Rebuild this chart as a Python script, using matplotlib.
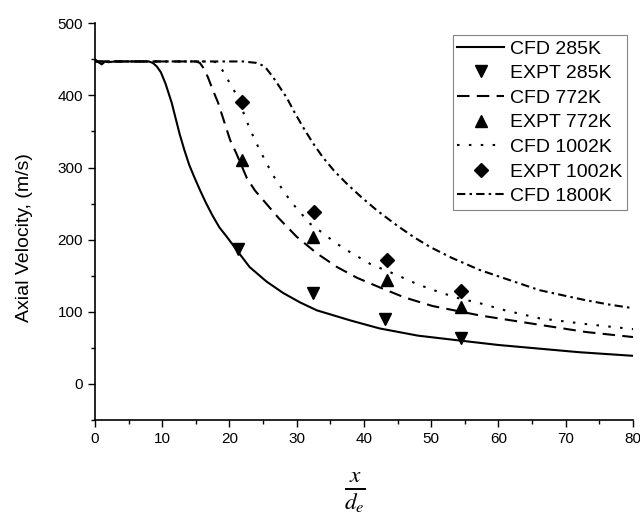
import numpy as np
import matplotlib
matplotlib.use('Agg')
import matplotlib.pyplot as plt
from matplotlib.ticker import MultipleLocator

plt.rcParams['font.family'] = ['Liberation Sans', 'DejaVu Sans']
plt.rcParams['mathtext.fontset'] = 'stix'

# CFD curves
cfd285_x = [0, 0.5, 1, 1.5, 2, 3, 5, 8, 8.6, 9.2, 9.8, 10.5, 11.4, 12, 12.6, 13.3, 14, 14.8, 15.6,
            16.5, 17.5, 18.5, 19.6, 21.2, 23, 25.5, 28, 30.5, 33, 35.5, 38, 42.3, 48, 54.4, 60, 66, 72, 80]
cfd285_v = [450, 446, 443, 447, 446, 447, 447, 447, 445, 440, 432, 416, 390, 368, 346, 324, 304, 286, 269,
            251, 233, 217, 204, 184, 162, 142, 126, 113, 102, 95, 88, 77, 67, 60, 54, 49, 44, 39]

cfd772_x = [0, 3, 10, 15, 15.6, 16.2, 16.8, 17.5, 18.3, 19.2, 20.1, 21, 22.6, 23.8, 25, 27.3, 30, 33,
            36, 39, 42.3, 46, 50.2, 57.2, 66.1, 73, 80]
cfd772_v = [447, 447, 447, 447, 445, 437, 425, 408, 390, 364, 338, 320, 285, 268, 255, 230, 204, 181,
            162, 147, 134, 120, 108, 95, 82, 72, 65]

cfd1002_x = [0, 3, 10, 17, 18, 18.5, 19, 19.5, 20.1, 21.1, 22, 23, 24.2, 25.5, 26.7, 28, 29.2, 30.5, 32,
             33.9, 35.7, 37.7, 41, 44.9, 48, 51.3, 54, 57.2, 61, 66.1, 73, 80]
cfd1002_v = [447, 447, 447, 447, 446, 442, 434, 426, 416, 400, 378, 354, 330, 306, 286, 268, 252, 238, 222,
             209, 196, 184, 166, 151, 138, 127, 119, 112, 102, 91, 83, 76]

cfd1800_x = [0, 10, 20, 22, 23, 24, 24.8, 25.5, 26.5, 27.5, 28.5, 29.7, 31, 32.4, 33.9, 35.6, 37.4, 39.6,
             42, 45, 47.5, 49.8, 53, 57.2, 61, 66.1, 70, 73, 76.5, 80]
cfd1800_v = [447, 447, 447, 447, 446, 445, 442, 437, 425, 411, 397, 376, 355, 334, 314, 295, 278, 259,
             240, 219, 203, 190, 175, 158, 146, 130, 122, 116, 110, 105]

# experiments
expt285_x = [21.2, 32.4, 43.1, 54.4]
expt285_v = [187, 126, 90, 64]
expt772_x = [21.8, 32.4, 43.4, 54.4]
expt772_v = [311, 203, 144, 107]
expt1002_x = [21.8, 32.5, 43.4, 54.5]
expt1002_v = [391, 239, 172, 129]

fig = plt.figure(figsize=(6.4, 5.16), dpi=100)
ax = fig.add_axes([0.1484, 0.186, 0.8406, 0.769])

lw = 1.5
ax.plot(cfd285_x, cfd285_v, color='black', lw=lw, label='CFD 285K')
ax.plot(expt285_x, expt285_v, 'v', color='black', ms=8.5, label='EXPT 285K')
ax.plot(cfd772_x, cfd772_v, color='black', lw=lw, dashes=(6, 3.5), label='CFD 772K')
ax.plot(expt772_x, expt772_v, '^', color='black', ms=8.5, label='EXPT 772K')
ax.plot(cfd1002_x, cfd1002_v, color='black', lw=lw, dashes=(1.2, 4.5), label='CFD 1002K')
ax.plot(expt1002_x, expt1002_v, 'D', color='black', ms=7, label='EXPT 1002K')
ax.plot(cfd1800_x, cfd1800_v, color='black', lw=lw, dashes=(4, 2, 1.2, 2), label='CFD 1800K')

ax.set_xlim(0, 80)
ax.set_ylim(-50, 500)
ax.spines['top'].set_visible(False)
ax.spines['right'].set_visible(False)
ax.xaxis.set_major_locator(MultipleLocator(10))
ax.xaxis.set_minor_locator(MultipleLocator(5))
ax.yaxis.set_major_locator(MultipleLocator(100))
ax.yaxis.set_minor_locator(MultipleLocator(50))
ax.tick_params(which='major', direction='out', length=5, width=1, labelsize=11)
ax.tick_params(which='minor', direction='out', length=3, width=1)
for s in ['left', 'bottom']:
    ax.spines[s].set_linewidth(1.2)

ax.set_ylabel('Axial Velocity, (m/s)', fontsize=14)
ax.yaxis.set_label_coords(-0.115, 0.46)
fig.text(0.555, 0.045, r'$\frac{x}{d_e}$', fontsize=24, ha='center', va='center')

leg = ax.legend(loc='upper right', bbox_to_anchor=(0.98, 0.932), bbox_transform=fig.transFigure,
                fontsize=14, frameon=True, fancybox=False, edgecolor='#666666',
                handlelength=2.4, handletextpad=0.3, labelspacing=0.36, borderpad=0.25,
                borderaxespad=0, numpoints=1)
leg.get_frame().set_linewidth(0.8)

fig.savefig('out.png', dpi=100)
